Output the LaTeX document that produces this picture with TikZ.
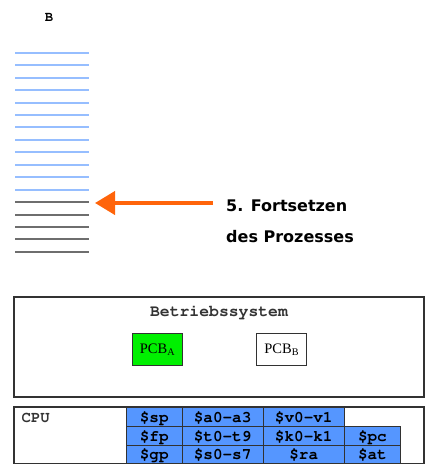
\documentclass[tikz,border=0pt]{standalone}
\usepackage[T1]{fontenc}
\usepackage{fontspec}
\usetikzlibrary{arrows.meta}
\newcommand\courfnt{\fontencoding{T1}\fontfamily{pcr}\selectfont}
\newfontfamily\sansfnt{DejaVu Sans}
\newfontfamily\seriffnt{Liberation Serif}
\definecolor{stackblue}{RGB}{150,190,255}
\definecolor{stackgray}{RGB}{110,110,110}
\definecolor{regblue}{RGB}{85,150,255}
\definecolor{pcbgreen}{RGB}{0,240,0}
\definecolor{arroworange}{RGB}{255,100,10}
\definecolor{frame}{RGB}{50,50,50}
\tikzset{
  bluebar/.style={stackblue,line width=2pt},
  graybar/.style={stackgray,line width=2pt},
  frame box/.style={draw=frame,line width=1.2pt,fill=white},
  pcbbox/.style={draw=frame,line width=1.2pt,inner sep=0pt,minimum width=50pt,minimum height=32pt,
    font=\seriffnt\fontsize{14.5}{16}\selectfont},
  regcell/.style={draw=frame,line width=0.8pt,fill=regblue,inner sep=0pt,anchor=north west,
    minimum height=18.8pt,text height=11pt,text depth=0pt,
    font=\courfnt\bfseries\fontsize{16}{17}\selectfont},
  note/.style={font=\sansfnt\bfseries\fontsize{16}{19}\selectfont,anchor=base west,inner sep=0pt},
}
\begin{document}
\begin{tikzpicture}[x=1pt,y=-1pt]
\useasboundingbox (0,0) rectangle (440,466);
% title B
\node[font=\courfnt\bfseries\fontsize{14}{15}\selectfont,inner sep=0pt,anchor=base] (titleB) at (49,21.5) {B};
% stack lines
\foreach \i in {0,...,11} {
  \draw[bluebar] (15,52.7+12.45*\i) -- (89,52.7+12.45*\i);
}
\foreach \i in {12,...,16} {
  \draw[graybar] (15,52.7+12.45*\i) -- (89,52.7+12.45*\i);
}
% arrow and note
\node[note] (note1) at (226,211.5) {5. Fortsetzen};
\node[note] (note2) at (226,242.5) {des Prozesses};
\coordinate (arrstart) at (213,203);
\coordinate (arrtip) at (95,203);
\draw[arroworange,line width=4pt,-{Triangle[length=20pt,width=23pt]}] (arrstart) -- (arrtip);
% operating system box
\draw[frame box] (14,297) rectangle (424,397);
\node[font=\courfnt\bfseries\fontsize{16.4}{18}\selectfont,anchor=base,inner sep=0pt,text=black!80] (os) at (219,316.5) {Betriebssystem};
\node[pcbbox,fill=pcbgreen] (pcba) at (157.5,349.5) {PCB\textsubscript{A}};
\node[pcbbox,fill=white] (pcbb) at (281.7,349.5) {PCB\textsubscript{B}};
% CPU box
\draw[frame box] (14,407) rectangle (424,463.3);
\node[font=\courfnt\bfseries\fontsize{15.6}{17}\selectfont,anchor=base west,inner sep=0pt,text=black!80] (cpu) at (21.5,422.3) {CPU};
% registers row 1
\node[regcell,minimum width=55.7pt] (sp) at (126,407) {\$sp};
\node[regcell,minimum width=81pt] (a0) at (181.7,407) {\$a0-a3};
\node[regcell,minimum width=81.3pt] (v0) at (262.7,407) {\$v0-v1};
% row 2
\node[regcell,minimum width=55.7pt] (fp) at (126,425.8) {\$fp};
\node[regcell,minimum width=81pt] (t0) at (181.7,425.8) {\$t0-t9};
\node[regcell,minimum width=81.3pt] (k0) at (262.7,425.8) {\$k0-k1};
\node[regcell,minimum width=56pt] (pc) at (344,425.8) {\$pc};
% row 3
\node[regcell,minimum width=55.7pt] (gp) at (126,444.6) {\$gp};
\node[regcell,minimum width=81pt] (s0) at (181.7,444.6) {\$s0-s7};
\node[regcell,minimum width=81.3pt] (ra) at (262.7,444.6) {\$ra};
\node[regcell,minimum width=56pt] (at) at (344,444.6) {\$at};
\end{tikzpicture}
\end{document}
